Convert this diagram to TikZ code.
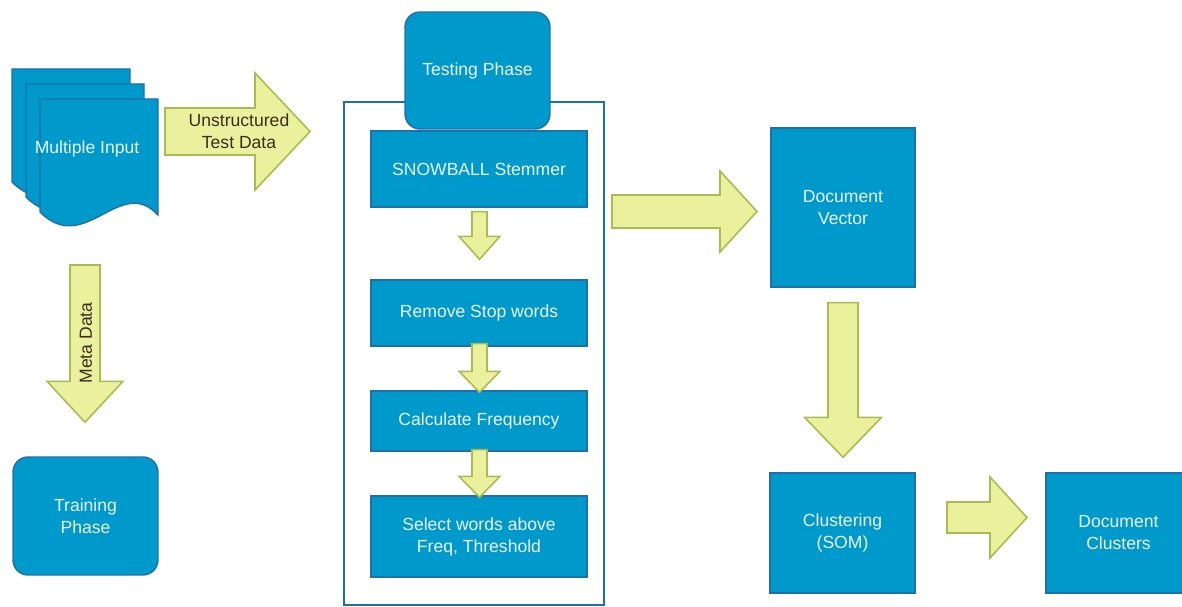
\documentclass[tikz,border=0pt]{standalone}
\usepackage{fontspec}
\setmainfont{Liberation Sans}
\usetikzlibrary{calc}
\usetikzlibrary{positioning}

\definecolor{boxblue}{RGB}{0,153,204}
\definecolor{boxline}{RGB}{31,111,168}
\definecolor{boxtext}{RGB}{236,246,251}
\definecolor{arrowfill}{RGB}{234,240,156}
\definecolor{arrowline}{RGB}{168,188,82}
\definecolor{arrowtext}{RGB}{59,45,30}

\tikzset{
  stepbox/.style={draw=boxline, fill=boxblue, line width=0.8pt, text=boxtext,
    align=center, inner sep=0pt, font=\fontsize{10}{12.5}\selectfont},
  phasebox/.style={stepbox, rounded corners=0.3cm},
  blockarrow/.style={draw=arrowline, fill=arrowfill, line width=0.9pt},
  arrowlabel/.style={text=arrowtext, align=center, font=\fontsize{10}{12.5}\selectfont},
  docpage/.pic={\draw[draw=boxline, fill=boxblue, line width=0.8pt]
    (0,0) -- (118,0) -- (118,116) .. controls (80,75) and (45,158) .. (0,113) -- cycle;}
}

% fat arrows: start, tip, half shaft, half head, head length
\newcommand{\rblock}[5]{\draw[blockarrow] ($(#1)+(0,-#3)$) -- ($(#2)+(-#5,-#3)$) --
  ($(#2)+(-#5,-#4)$) -- (#2) -- ($(#2)+(-#5,#4)$) -- ($(#2)+(-#5,#3)$) --
  ($(#1)+(0,#3)$) -- cycle;}
\newcommand{\dblock}[5]{\draw[blockarrow] ($(#1)+(-#3,0)$) -- ($(#2)+(-#3,-#5)$) --
  ($(#2)+(-#4,-#5)$) -- (#2) -- ($(#2)+(#4,-#5)$) -- ($(#2)+(#3,-#5)$) --
  ($(#1)+(#3,0)$) -- cycle;}

\begin{document}
\begin{tikzpicture}[x=0.02cm, y=-0.02cm]
  \clip (0,0) rectangle (1182,607);

  % input documents
  \pic at (12,69) {docpage};
  \pic at (26,84) {docpage};
  \pic at (40,99) {docpage};
  \node[text=boxtext, font=\fontsize{10}{12.5}\selectfont] (input) at (87,149) {Multiple Input};

  % testing phase
  \draw[boxline, line width=1.1pt] (344,102) rectangle (604,605);
  \node[phasebox, minimum width=2.9cm, minimum height=2.34cm] (testing) at (477.5,70.5) {Testing Phase};
  \node[stepbox, minimum width=4.32cm, minimum height=1.52cm] (stem) at (479,169) {SNOWBALL Stemmer};
  \node[stepbox, minimum width=4.32cm, minimum height=1.32cm] (stop) at (479,313) {Remove Stop words};
  \node[stepbox, minimum width=4.32cm, minimum height=1.2cm] (freq) at (479,421) {Calculate Frequency};
  \node[stepbox, minimum width=4.32cm, minimum height=1.62cm] (select) at (479,536.5) {Select words above\\Freq, Threshold};

  % training phase
  \node[phasebox, minimum width=2.9cm, minimum height=2.36cm] (training) at (85.5,516) {Training\\Phase};

  % right side
  \node[stepbox, minimum width=2.88cm, minimum height=3.18cm] (vector) at (843,207.5) {Document\\Vector};
  \node[stepbox, minimum width=2.9cm, minimum height=2.4cm] (cluster) at (842.5,533) {Clustering\\(SOM)};
  \node[stepbox, minimum width=2.9cm, minimum height=2.4cm] (clusters) at (1118.5,533) {Document\\Clusters};

  % arrow ends
  \coordinate (a1) at (165,131.5);
  \coordinate (a1t) at (310,131.5);
  \coordinate (m1) at (85,265);
  \coordinate (m1t) at ($(training.north)+(-0.5,-34)$);
  \coordinate (s1) at ($(stem.south)+(0.5,4)$);
  \coordinate (s1t) at ($(stop.north)+(0.5,-20)$);
  \coordinate (s2) at ($(stop.south)+(0.5,-3)$);
  \coordinate (s2t) at ($(freq.north)+(0.5,2)$);
  \coordinate (s3) at ($(freq.south)+(0.5,-2)$);
  \coordinate (s3t) at ($(select.north)+(0.5,2)$);
  \coordinate (v1) at (612,211.5);
  \coordinate (v1t) at (757,211.5);
  \coordinate (d1) at ($(vector.south)+(0,15)$);
  \coordinate (d1t) at ($(cluster.north)+(0.5,-15)$);
  \coordinate (c1) at (947,517.5);
  \coordinate (c1t) at (1027,517.5);

  \rblock{a1}{a1t}{23.5}{58.5}{55}
  \dblock{m1}{m1t}{15}{38}{41}
  \dblock{s1}{s1t}{7.5}{20.5}{23}
  \dblock{s2}{s2t}{7.5}{20.5}{21}
  \dblock{s3}{s3t}{7.5}{20.5}{21}
  \rblock{v1}{v1t}{16.5}{40.5}{37}
  \dblock{d1}{d1t}{15}{38.5}{40}
  \rblock{c1}{c1t}{15.5}{40.5}{37}

  \node[arrowlabel] (unstruct) at (239,131) {Unstructured\\Test Data};
  \node[arrowlabel, rotate=90] (meta) at (86,343) {Meta Data};
\end{tikzpicture}
\end{document}
